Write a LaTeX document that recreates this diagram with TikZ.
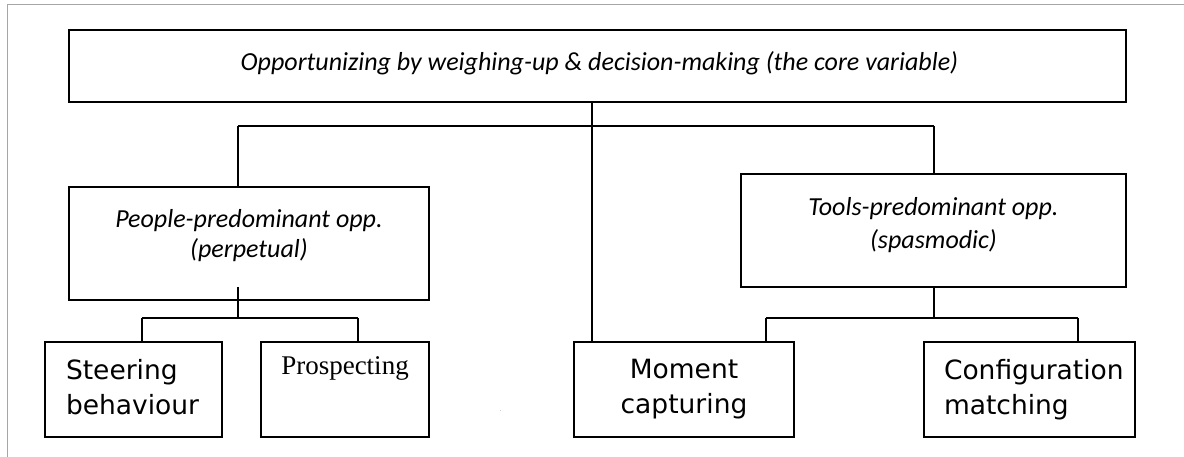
\documentclass[tikz,border=0pt]{standalone}
\usepackage{fontspec}
\newfontfamily\calfont{Carlito}
\newfontfamily\tahfont{DejaVu Sans}
\newfontfamily\timesfont{Liberation Serif}
\usepackage{tikz}
\usetikzlibrary{positioning}
\tikzset{
  every picture/.style = {
    line width = 1.4pt,
    x = 1pt,
    y = -1pt,
  }
  ,
  box/.style = {
    rectangle,
    draw,
    inner sep = 0pt
  }
  , % texts of the two upper levels
  label-core/.style = {
    font = \calfont\itshape\fontsize{26}{30}\selectfont,
    inner sep = 0pt
  }
  ,
  label-mid/.style = {
    font = \calfont\itshape\fontsize{26}{30}\selectfont,
    align = center,
    inner sep = 0pt
  }
  , % texts of the bottom boxes
  label-leaf/.style = {
    font = \tahfont\fontsize{26.5}{35}\selectfont,
    inner sep = 0pt
  }
  ,
  frame/.style = {
    draw = gray!70,
    line width = 1pt
  }
}

\begin{document}
\begin{tikzpicture}
		\useasboundingbox (0,0) rectangle (1184,457);
		\draw[frame] (7,457) -- (7,5) -- (1184,5);

		\node at (597.5,66) [box,minimum width=1057pt,minimum height=72pt] (core) {};
		\node at (249,243.5) [box,minimum width=360pt,minimum height=113pt] (people) {};
		\node at (933.5,230.5) [box,minimum width=385pt,minimum height=113pt] (tools) {};
		\node at (133.5,389.5) [box,minimum width=177pt,minimum height=95pt] (steer) {};
		\node at (345,389.5) [box,minimum width=168pt,minimum height=95pt] (prosp) {};
		\node at (684,389.5) [box,minimum width=220pt,minimum height=95pt] (moment) {};
		\node at (1029.5,389.5) [box,minimum width=211pt,minimum height=95pt] (config) {};

		\node[label-core,below=21.5pt of core.north,xshift=2pt] (core-t) {Opportunizing by weighing-up \& decision-making (the core variable)};
		\node[label-mid,below=22pt of people.north] (people-t) {People-predominant opp.\\(perpetual)};
		\node[label-mid,below=23pt of tools.north] (tools-t) {Tools-predominant opp.\\[3pt](spasmodic)};
		\node[label-leaf,align=left,below right=17pt and 21pt of steer.north west] (steer-t) {Steering\\behaviour};
		\node[label-leaf,below=15pt of prosp.north,font=\timesfont\fontsize{27}{35}\selectfont] (prosp-t) {Prospecting};
		\node[label-leaf,align=center,below=17pt of moment.north] (moment-t) {Moment\\capturing};
		\node[label-leaf,align=left,below right=17pt and 20pt of config.north west] (config-t) {Configuration\\matching};
		\node at (501,411) [inner sep=0pt,font=\tiny] (dot) {.};

		% joints of the tree
		\coordinate (hub) at (592,126);
		\coordinate (lj) at (238,126);
		\coordinate (rj) at (934,126);
		\coordinate (ls) at (238,287);
		\coordinate (lb) at (238,318);
		\coordinate (lb1) at (142,318);
		\coordinate (lb2) at (358,318);
		\coordinate (rb) at (934,318);
		\coordinate (rb1) at (766,318);
		\coordinate (rb2) at (1078,318);

		\draw (core.south -| hub) -- (moment.north -| hub);
		\draw (lj) -- (rj);
		\draw (lj) -- (lj |- people.north);
		\draw (rj) -- (rj |- tools.north);
		\draw (ls) -- (lb);
		\draw (lb1) -- (lb2);
		\draw (lb1) -- (lb1 |- steer.north);
		\draw (lb2) -- (lb2 |- prosp.north);
		\draw (tools.south -| rb) -- (rb);
		\draw (rb1) -- (rb2);
		\draw (rb1) -- (rb1 |- moment.north);
		\draw (rb2) -- (rb2 |- config.north);
\end{tikzpicture}
\end{document}
